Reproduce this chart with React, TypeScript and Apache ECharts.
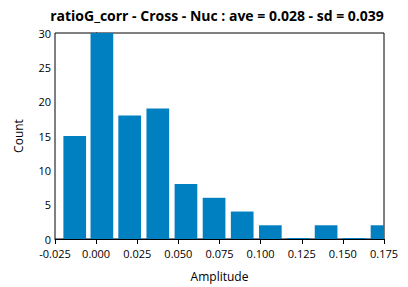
import React, { useEffect, useRef } from "react";
import * as echarts from "echarts";

const binCenters = [-0.013, 0.0035, 0.0204, 0.0375, 0.0546, 0.0717, 0.0888, 0.1059, 0.123, 0.1398, 0.1568, 0.1738];
const counts = [15, 30, 18, 19, 8, 6, 4, 2, 0, 2, 0, 2];
const xTicks = [-0.025, 0, 0.025, 0.05, 0.075, 0.1, 0.125, 0.15, 0.175];
const titleText = "ratioG_corr - Cross - Nuc : ave = 0.028 - sd = 0.039";
const BAR_W = 0.0138;
const FONT = "'Open Sans', 'Noto Sans', sans-serif";

export default function App() {
  const ref = useRef<HTMLDivElement>(null);
  useEffect(() => {
    document.body.style.margin = "0";
    if (!ref.current) return;
    const chart = echarts.init(ref.current, undefined, { renderer: "svg" });
    const data = binCenters.map((c, i) => [c, counts[i]]);
    chart.setOption({
      animation: false,
      title: {
        text: titleText,
        left: 212,
        top: 3,
        textAlign: "center",
        textStyle: { fontFamily: FONT, fontWeight: "bold", fontSize: 14, color: "#000" },
      },
      grid: { left: 55, right: 24, top: 33, bottom: 43, show: true, borderColor: "#000", borderWidth: 1 },
      xAxis: {
        type: "value",
        min: -0.025,
        max: 0.175,
        interval: 0.025,
        name: "Amplitude",
        nameLocation: "middle",
        nameGap: 31,
        nameTextStyle: { fontFamily: FONT, fontSize: 12, color: "#000" },
        axisLine: { show: true, lineStyle: { color: "#000" } },
        axisTick: { show: true, length: 5, lineStyle: { color: "#000" } },
        splitLine: { show: false },
        axisLabel: {
          fontFamily: FONT,
          fontSize: 11,
          lineHeight: 12,
          color: "#000",
          margin: 8,
          formatter: (v: number) => {
            const t = xTicks.find((x) => Math.abs(x - v) < 1e-9);
            return t === undefined ? "" : t.toFixed(3);
          },
        },
      },
      yAxis: {
        type: "value",
        min: 0,
        max: 30,
        interval: 5,
        name: "Count",
        nameLocation: "middle",
        nameGap: 31,
        nameTextStyle: { fontFamily: FONT, fontSize: 12, color: "#000" },
        axisLine: { show: true, lineStyle: { color: "#000" } },
        axisTick: { show: true, length: 5, lineStyle: { color: "#000" } },
        splitLine: { show: false },
        axisLabel: { fontFamily: FONT, fontSize: 11, lineHeight: 12, color: "#000", margin: 4 },
      },
      series: [
        {
          type: "custom",
          data,
          clip: true,
          renderItem: (params: any, api: any) => {
            const x = api.value(0);
            const y = api.value(1);
            const p1 = api.coord([x - BAR_W / 2, y]);
            const p2 = api.coord([x + BAR_W / 2, 0]);
            let h = p2[1] - p1[1];
            if (h < 1) h = 1;
            const rect = echarts.graphic.clipRectByRect(
              { x: p1[0], y: p2[1] - h, width: p2[0] - p1[0], height: h },
              {
                x: params.coordSys.x,
                y: params.coordSys.y,
                width: params.coordSys.width,
                height: params.coordSys.height,
              }
            );
            if (!rect) return null;
            return { type: "rect", shape: rect, style: { fill: "#0080c0" } };
          },
        },
      ],
    });
    return () => chart.dispose();
  }, []);
  return <div ref={ref} style={{ width: 408, height: 287 }} />;
}
